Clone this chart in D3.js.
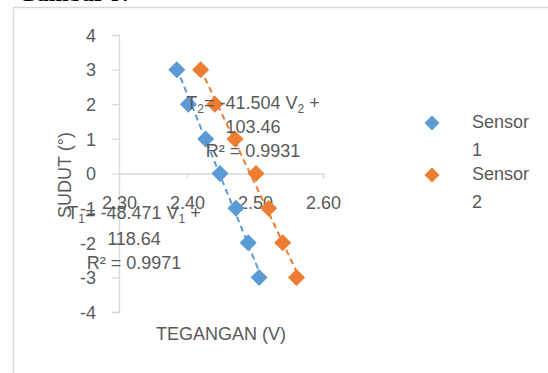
<!DOCTYPE html>
<html><head><meta charset="utf-8">
<script src="https://cdn.jsdelivr.net/npm/d3@7"></script>
<style>body{margin:0;background:#fff}svg{display:block}</style>
</head><body>
<script>
const sensorNames = ["Sensor 1", "Sensor 2"];
const sudut = [3, 2, 1, 0, -1, -2, -3];
const tegangan1 = [2.385, 2.402, 2.4275, 2.4485, 2.472, 2.490, 2.506];
const tegangan2 = [2.420, 2.441, 2.4706, 2.5015, 2.520, 2.5407, 2.561];
const slopes = [-48.471, -41.504];
const intercepts = [118.64, 103.46];
const rSquared = ["0.9971", "0.9931"];
const xTicks = [2.30, 2.40, 2.50, 2.60];
const yTicks = [4, 3, 2, 1, 0, -1, -2, -3, -4];
const colors = ["#5B9BD5", "#ED7D31"];

const W = 548, H = 373;
const font = "'Liberation Sans', Arial, sans-serif";
const txt = "#595959";
const svg = d3.select("body").append("svg").attr("width", W).attr("height", H);

svg.append("text").attr("x", 18).attr("y", 1).attr("font-family", "'Liberation Serif', serif")
  .attr("font-weight", "bold").attr("font-size", 24).attr("fill", "#000").text("Gambar 9.");

svg.append("rect").attr("x", 13.5).attr("y", 7.5).attr("width", 600).attr("height", 400)
  .attr("fill", "none").attr("stroke", "#D9D9D9").attr("stroke-width", 1.5);

const x = d3.scaleLinear().domain([2.3, 2.6]).range([119, 323]);
const y = d3.scaleLinear().domain([-4, 4]).range([312, 35]);

// Y axis
const yAxis = svg.append("g").attr("transform", `translate(${x(2.3)},0)`)
  .call(d3.axisLeft(y).tickValues(yTicks).tickSize(7).tickPadding(16).tickFormat(d => String(d)));
yAxis.select(".domain").attr("stroke", "#D9D9D9").attr("stroke-width", 1.3);
yAxis.selectAll(".tick line").attr("stroke", "#D9D9D9").attr("stroke-width", 1.3);
yAxis.selectAll(".tick text").attr("font-family", font).attr("font-size", 18).attr("fill", txt).attr("dy", "0.35em");

// X axis at y = 0
const xAxis = svg.append("g").attr("transform", `translate(0,${y(0)})`)
  .call(d3.axisBottom(x).tickValues(xTicks).tickSize(5).tickSizeOuter(5).tickPadding(18).tickFormat(d => d.toFixed(2)));
xAxis.select(".domain").attr("stroke", "#D9D9D9").attr("stroke-width", 1.3);
xAxis.selectAll(".tick line").attr("stroke", "#D9D9D9").attr("stroke-width", 1.3);
xAxis.selectAll(".tick text").attr("font-family", font).attr("font-size", 18).attr("fill", txt).attr("dy", "0.71em");

// Axis titles
svg.append("text").attr("transform", `translate(71,175) rotate(-90)`).attr("text-anchor", "middle")
  .attr("font-family", font).attr("font-size", 18).attr("fill", txt).text("SUDUT (°)");
svg.append("text").attr("x", 221).attr("y", 340).attr("text-anchor", "middle")
  .attr("font-family", font).attr("font-size", 18).attr("fill", txt).text("TEGANGAN (V)");

const series = [tegangan1, tegangan2];
const diamond = (s) => `M0,${-s}L${s},0L0,${s}L${-s},0Z`;

// markers
series.forEach((vals, i) => {
  svg.append("g").selectAll("path").data(vals.map((v, j) => [v, sudut[j]])).join("path")
    .attr("d", diamond(8.5)).attr("fill", colors[i])
    .attr("transform", d => `translate(${x(d[0])},${y(d[1])})`);
});

// trendlines
series.forEach((vals, i) => {
  const ext = d3.extent(vals);
  svg.append("line")
    .attr("x1", x(ext[0])).attr("y1", y(slopes[i] * ext[0] + intercepts[i]))
    .attr("x2", x(ext[1])).attr("y2", y(slopes[i] * ext[1] + intercepts[i]))
    .attr("stroke", colors[i]).attr("stroke-width", 2).attr("stroke-dasharray", "6,4");
});

// equation labels
const eqPos = [{cx: 134, ys: [219, 245, 269]}, {cx: 253, ys: [109, 133, 157]}];
eqPos.forEach((p, i) => {
  const n = i + 1;
  const t1 = svg.append("text").attr("x", p.cx).attr("y", p.ys[0]).attr("text-anchor", "middle")
    .attr("font-family", font).attr("font-size", 18).attr("fill", txt);
  t1.append("tspan").text("T");
  t1.append("tspan").attr("font-size", 12).attr("dy", 4).text(n);
  t1.append("tspan").attr("dy", -4).text(`= ${slopes[i].toFixed(3)} V`);
  t1.append("tspan").attr("font-size", 12).attr("dy", 4).text(n);
  t1.append("tspan").attr("dy", -4).text(" +");
  svg.append("text").attr("x", p.cx).attr("y", p.ys[1]).attr("text-anchor", "middle")
    .attr("font-family", font).attr("font-size", 18).attr("fill", txt).text(intercepts[i].toFixed(2));
  svg.append("text").attr("x", p.cx).attr("y", p.ys[2]).attr("text-anchor", "middle")
    .attr("font-family", font).attr("font-size", 18).attr("fill", txt).text(`R² = ${rSquared[i]}`);
});

// legend
const legY = [123, 175];
sensorNames.forEach((name, i) => {
  svg.append("path").attr("d", diamond(7.5)).attr("fill", colors[i])
    .attr("transform", `translate(432,${legY[i]})`);
  const parts = name.split(" ");
  svg.append("text").attr("x", 472).attr("y", legY[i] + 5).attr("font-family", font)
    .attr("font-size", 18).attr("fill", txt).text(parts[0]);
  svg.append("text").attr("x", 472).attr("y", legY[i] + 33).attr("font-family", font)
    .attr("font-size", 18).attr("fill", txt).text(parts[1]);
});
</script>
</body></html>
